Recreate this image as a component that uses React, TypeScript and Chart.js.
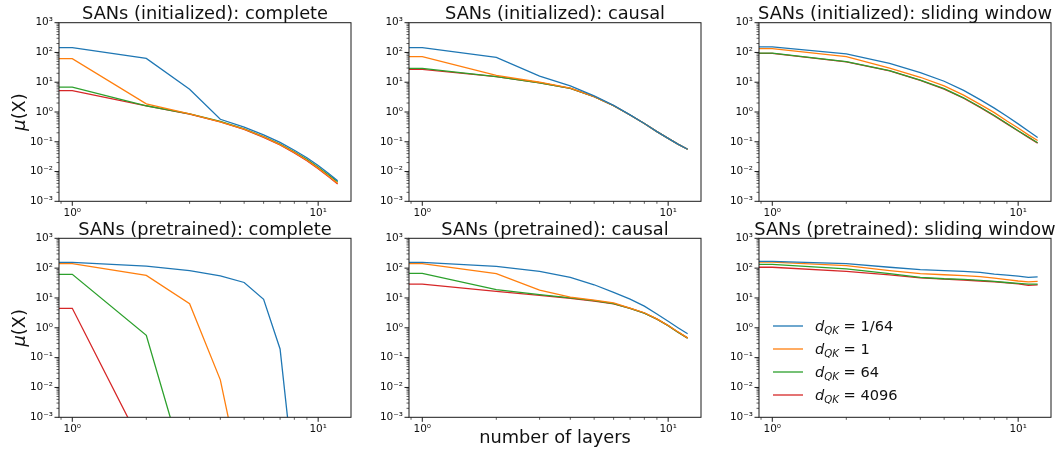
import React, { useEffect, useRef } from 'react';
import { Chart, registerables } from 'chart.js';

Chart.register(...registerables);

// ---------- data ----------
const layers = [0, 1, 2, 3, 4, 5, 6, 7, 8, 9, 10, 11, 12];
const dqkValues = ['1/64', '1', '64', '4096'];
const seriesColors = ['#1f77b4', '#ff7f0e', '#2ca02c', '#d62728'];

const xMajorTicks = [1, 10];
const xTickLabels = ['10⁰', '10¹'];
const yMajorTicks = [1e-3, 1e-2, 1e-1, 1, 10, 100, 1000];
const yTickLabels = ['10⁻³', '10⁻²', '10⁻¹', '10⁰', '10¹', '10²', '10³'];
const xMinorDecades = [0.1, 1, 10];
const yMinorDecades = [1e-3, 1e-2, 1e-1, 1, 10, 100];
const minorMultipliers = [2, 3, 4, 5, 6, 7, 8, 9];
const xLimits = [0.883, 13.6];
const yLimits = [1e-3, 1e3];

const panelTitles = [
  'SANs (initialized): complete',
  'SANs (initialized): causal',
  'SANs (initialized): sliding window',
  'SANs (pretrained): complete',
  'SANs (pretrained): causal',
  'SANs (pretrained): sliding window',
];

// initialized / complete
const initCompleteBlue = [145, 145, 63, 5.8, 0.57, 0.31, 0.17, 0.095, 0.052, 0.029, 0.016, 0.0087, 0.0049];
const initCompleteOrange = [62, 62, 1.87, 0.87, 0.47, 0.265, 0.145, 0.08, 0.044, 0.024, 0.013, 0.0071, 0.004];
const initCompleteGreen = [6.8, 6.8, 1.62, 0.86, 0.48, 0.27, 0.15, 0.083, 0.046, 0.026, 0.014, 0.0078, 0.0045];
const initCompleteRed = [5.2, 5.2, 1.6, 0.85, 0.47, 0.26, 0.14, 0.078, 0.042, 0.023, 0.0125, 0.0068, 0.0038];

// initialized / causal
const initCausalBlue = [145, 145, 68, 16, 7.5, 3.5, 1.66, 0.8, 0.41, 0.22, 0.13, 0.082, 0.056];
const initCausalOrange = [72, 72, 17, 10, 6.3, 3.3, 1.63, 0.79, 0.41, 0.22, 0.13, 0.082, 0.056];
const initCausalGreen = [29, 29, 15.5, 9.6, 6.2, 3.3, 1.62, 0.79, 0.41, 0.22, 0.13, 0.082, 0.056];
const initCausalRed = [27, 27, 15.4, 9.6, 6.2, 3.3, 1.62, 0.79, 0.41, 0.22, 0.13, 0.082, 0.056];

// initialized / sliding window
const initSlidingBlue = [155, 155, 89, 43, 21, 10.8, 5.3, 2.6, 1.35, 0.72, 0.4, 0.23, 0.14];
const initSlidingOrange = [134, 134, 72, 30, 14.7, 7.5, 3.7, 1.8, 0.95, 0.5, 0.29, 0.17, 0.11];
const initSlidingGreen = [95, 95, 49, 24.5, 11.8, 6.1, 3.0, 1.47, 0.76, 0.41, 0.235, 0.145, 0.093];
const initSlidingRed = [93, 93, 48, 24, 11.5, 5.9, 2.9, 1.43, 0.74, 0.4, 0.23, 0.14, 0.09];

// pretrained / complete
const preCompleteBlue = [157, 157, 117, 82, 55, 33, 9, 0.195, 8e-6, 4e-7, 2e-8, 1e-9, 6e-11];
const preCompleteOrange = [141, 141, 57, 6.4, 0.018, 3e-6, 2e-7, 1e-8, 6e-10, 3e-11, 2e-12, 1e-13, 6e-15];
const preCompleteGreen = [62, 62, 0.56, 6e-6, 3e-7, 2e-8, 1e-9, 6e-11, 3e-12, 2e-13, 1e-14, 6e-16, 3e-17];
const preCompleteRed = [4.5, 4.5, 6e-5, 2e-6, 1e-7, 6e-9, 3e-10, 2e-11, 1e-12, 6e-14, 3e-15, 2e-16, 1e-17];

// pretrained / causal
const preCausalBlue = [157, 157, 115, 78, 49, 27.7, 15.4, 9.2, 5.3, 2.9, 1.66, 0.99, 0.63];
const preCausalOrange = [142, 142, 65, 18.3, 10.7, 8.5, 6.8, 4.6, 3.2, 2.0, 1.2, 0.72, 0.46];
const preCausalGreen = [67, 67, 19, 12.9, 10, 8.1, 6.5, 4.5, 3.1, 1.95, 1.18, 0.7, 0.45];
const preCausalRed = [29, 29, 16.7, 12.3, 9.8, 7.9, 6.4, 4.5, 3.1, 1.95, 1.18, 0.7, 0.45];

// pretrained / sliding window
const preSlidingBlue = [169, 169, 141, 107, 89, 82, 78, 72, 63, 58, 54, 49, 51];
const preSlidingOrange = [158, 158, 121, 82, 65, 60, 56, 52, 46, 41, 37, 34.5, 36];
const preSlidingGreen = [134, 134, 94, 65, 49, 44, 42, 39, 36, 33, 31, 29, 29];
const preSlidingRed = [107, 107, 78, 59, 47, 43, 40, 37, 35, 32, 29.5, 26.5, 27.5];

const panelSeries = [
  [initCompleteBlue, initCompleteOrange, initCompleteGreen, initCompleteRed],
  [initCausalBlue, initCausalOrange, initCausalGreen, initCausalRed],
  [initSlidingBlue, initSlidingOrange, initSlidingGreen, initSlidingRed],
  [preCompleteBlue, preCompleteOrange, preCompleteGreen, preCompleteRed],
  [preCausalBlue, preCausalOrange, preCausalGreen, preCausalRed],
  [preSlidingBlue, preSlidingOrange, preSlidingGreen, preSlidingRed],
];

// ---------- helpers ----------
const FONT = '"DejaVu Sans", "Liberation Sans", sans-serif';

function buildTicks(majors: number[], decades: number[], lo: number, hi: number) {
  const out: { value: number; major: boolean }[] = [];
  decades.forEach((d) => {
    minorMultipliers.forEach((k) => {
      const v = d * k;
      if (v >= lo && v <= hi) out.push({ value: v, major: false });
    });
  });
  majors.forEach((m) => out.push({ value: m, major: true }));
  out.sort((a, b) => a.value - b.value);
  return out;
}

const xTicks = buildTicks(xMajorTicks, xMinorDecades, xLimits[0], xLimits[1]);
const yTicks = buildTicks(yMajorTicks, yMinorDecades, yLimits[0], yLimits[1]);

const decorPlugin = {
  id: 'decor',
  afterDraw(chart: any, _args: any, opts: any) {
    const { ctx, chartArea } = chart;
    const { left, top, right, bottom } = chartArea;
    ctx.save();
    // frame
    ctx.strokeStyle = '#1a1a1a';
    ctx.lineWidth = 1;
    ctx.strokeRect(left, top, right - left, bottom - top);
    // ticks
    const xs = chart.scales.x;
    const ys = chart.scales.y;
    xs.ticks.forEach((t: any) => {
      const px = xs.getPixelForValue(t.value);
      if (px < left - 0.5 || px > right + 0.5) return;
      const len = t.major ? 4.5 : 2.5;
      ctx.lineWidth = t.major ? 1 : 0.7;
      ctx.beginPath();
      ctx.moveTo(px, bottom);
      ctx.lineTo(px, bottom + len);
      ctx.stroke();
    });
    ys.ticks.forEach((t: any) => {
      const py = ys.getPixelForValue(t.value);
      const len = t.major ? 4.5 : 2.5;
      ctx.lineWidth = t.major ? 1 : 0.7;
      ctx.beginPath();
      ctx.moveTo(left - len, py);
      ctx.lineTo(left, py);
      ctx.stroke();
    });
    ctx.fillStyle = '#111';
    // title
    ctx.font = `17.8px ${FONT}`;
    ctx.textAlign = 'center';
    ctx.textBaseline = 'alphabetic';
    ctx.fillText(opts.title, (left + right) / 2, top - 3.5);
    // y label
    if (opts.yLabel) {
      const mu = 'μ';
      const rest = '(X)';
      ctx.font = `italic 17.8px ${FONT}`;
      const wMu = ctx.measureText(mu).width;
      ctx.font = `17.8px ${FONT}`;
      const wRest = ctx.measureText(rest).width;
      const total = wMu + wRest;
      ctx.save();
      ctx.translate(left - 34.5, (top + bottom) / 2);
      ctx.rotate(-Math.PI / 2);
      ctx.textAlign = 'left';
      ctx.font = `italic 17.8px ${FONT}`;
      ctx.fillText(mu, -total / 2, 0);
      ctx.font = `17.8px ${FONT}`;
      ctx.fillText(rest, -total / 2 + wMu, 0);
      ctx.restore();
    }
    // x label
    if (opts.xLabel) {
      ctx.font = `17.8px ${FONT}`;
      ctx.textAlign = 'center';
      ctx.fillText(opts.xLabel, (left + right) / 2, bottom + 25.7);
    }
    // legend
    if (opts.legend) {
      chart.data.datasets.forEach((ds: any, i: number) => {
        const cy = bottom - 22.3 - (3 - i) * 23;
        ctx.strokeStyle = ds.borderColor;
        ctx.lineWidth = 1.3;
        ctx.beginPath();
        ctx.moveTo(left + 14, cy);
        ctx.lineTo(left + 44, cy);
        ctx.stroke();
        let x = left + 56;
        const base = cy + 5;
        ctx.fillStyle = '#111';
        ctx.textAlign = 'left';
        ctx.font = `italic 14.6px ${FONT}`;
        ctx.fillText('d', x, base);
        x += ctx.measureText('d').width;
        ctx.font = `italic 10.2px ${FONT}`;
        ctx.fillText('QK', x, base + 3.2);
        x += ctx.measureText('QK').width;
        ctx.font = `14.6px ${FONT}`;
        ctx.fillText(' = ' + ds.label, x, base);
      });
    }
    ctx.restore();
  },
};

type PanelProps = { index: number };

function PanelChart({ index }: PanelProps) {
  const ref = useRef<HTMLCanvasElement>(null);
  const row = Math.floor(index / 3);
  const col = index % 3;
  const isTop = row === 0;
  const canvasW = 358;
  const canvasH = isTop ? 225 : 251;
  const canvasLeft = col * 350;
  const canvasTop = isTop ? 0 : 200;

  useEffect(() => {
    const canvas = ref.current;
    if (!canvas) return;
    const padTop = isTop ? 22.7 : 38.3;
    const xAxisH = isTop ? 23.7 : 33.7;
    const series = panelSeries[index];
    const chart = new Chart(canvas, {
      type: 'line',
      data: {
        datasets: series.map((s, i) => ({
          label: dqkValues[i],
          data: layers.map((x, j) => ({ x, y: s[j] })),
          borderColor: seriesColors[i],
          backgroundColor: seriesColors[i],
          borderWidth: 1.3,
          pointRadius: 0,
          tension: 0,
          fill: false,
        })),
      },
      options: {
        animation: false,
        responsive: false,
        events: [],
        layout: { padding: { left: 0, right: 7, top: padTop, bottom: 0 } },
        plugins: {
          legend: { display: false },
          tooltip: { enabled: false },
          title: { display: false },
          decor: {
            title: panelTitles[index],
            yLabel: col === 0,
            xLabel: index === 4 ? 'number of layers' : '',
            legend: index === 5,
          },
        } as any,
        scales: {
          x: {
            type: 'logarithmic',
            position: 'bottom',
            min: xLimits[0],
            max: xLimits[1],
            afterBuildTicks: (scale: any) => {
              scale.ticks = xTicks.map((t) => ({ ...t }));
            },
            afterFit: (scale: any) => {
              scale.height = xAxisH;
            },
            ticks: {
              autoSkip: false,
              maxRotation: 0,
              minRotation: 0,
              padding: 1,
              color: '#111',
              font: { family: FONT, size: 10.5 },
              callback: (v: any) => {
                const k = xMajorTicks.indexOf(Number(v));
                return k >= 0 ? xTickLabels[k] : '';
              },
            },
            grid: { display: true, drawOnChartArea: false, drawTicks: true, tickLength: 5, color: 'rgba(0,0,0,0)' },
            border: { display: false },
          },
          y: {
            type: 'logarithmic',
            position: 'left',
            min: yLimits[0],
            max: yLimits[1],
            afterBuildTicks: (scale: any) => {
              scale.ticks = yTicks.map((t) => ({ ...t }));
            },
            afterFit: (scale: any) => {
              scale.width = 59;
            },
            ticks: {
              autoSkip: false,
              padding: 1,
              color: '#111',
              font: { family: FONT, size: 10.5 },
              callback: (v: any) => {
                const k = yMajorTicks.indexOf(Number(v));
                return k >= 0 ? yTickLabels[k] : '';
              },
            },
            grid: { display: true, drawOnChartArea: false, drawTicks: true, tickLength: 5, color: 'rgba(0,0,0,0)' },
            border: { display: false },
          },
        } as any,
      },
      plugins: [decorPlugin],
    } as any);
    return () => chart.destroy();
  }, [index]);

  return (
    <canvas
      ref={ref}
      width={canvasW}
      height={canvasH}
      style={{ position: 'absolute', left: canvasLeft, top: canvasTop, width: canvasW, height: canvasH }}
    />
  );
}

export default function App() {
  return (
    <div style={{ position: 'absolute', left: 0, top: 0, width: 1058, height: 451, background: '#fff', overflow: 'hidden' }}>
      {[0, 1, 2, 3, 4, 5].map((i) => (
        <PanelChart key={i} index={i} />
      ))}
    </div>
  );
}
